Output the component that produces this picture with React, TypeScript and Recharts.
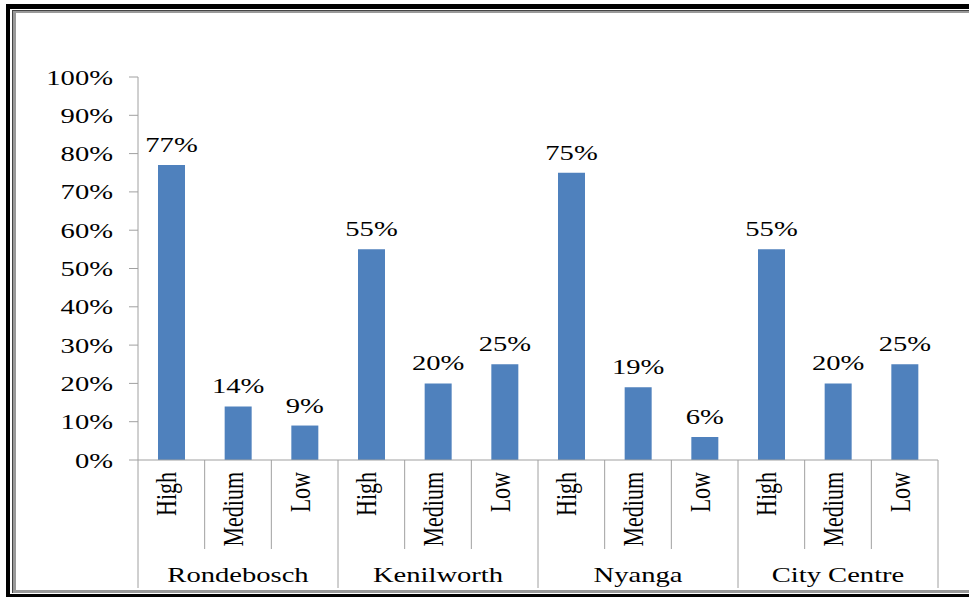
import React from 'react'
import { BarChart, Bar, XAxis, YAxis, LabelList } from 'recharts'

const groups = ['Rondebosch', 'Kenilworth', 'Nyanga', 'City Centre']
const levels = ['High', 'Medium', 'Low']
const shares = [
  [77, 14, 9],
  [55, 20, 25],
  [75, 19, 6],
  [55, 20, 25],
]
const yTicks = [0, 10, 20, 30, 40, 50, 60, 70, 80, 90, 100]

const W = 969
const H = 597
const M = { top: 77, right: 31, left: 0, bottom: 0 }
const Y_W = 138
const X_H = 137
const PLOT_W = W - M.left - M.right - Y_W

const FONT = '"Liberation Serif", "Times New Roman", serif'
const SX = 1.3
const AXIS = '#A0A0A0'

const data = groups.flatMap((g, gi) =>
  levels.map((l, li) => ({ key: `${g}-${l}`, group: g, level: l, value: shares[gi][li] }))
)

function YTick(props: any) {
  const { x, y, payload } = props
  return (
    <g transform={`translate(${x - 14},${y + 7.5}) scale(${SX},1)`}>
      <text x={0} y={0} textAnchor="end" fontFamily={FONT} fontSize={22} fill="#000">
        {`${payload.value}%`}
      </text>
    </g>
  )
}

function XTick(props: any) {
  const { x, y, index } = props
  const d = data[index]
  const half = PLOT_W / data.length / 2
  const first = index % levels.length === 0
  const last = index === data.length - 1
  return (
    <g>
      <line x1={x - half} x2={x - half} y1={y} y2={y + (first ? 128 : 89)} stroke={AXIS} />
      {last && <line x1={x + half} x2={x + half} y1={y} y2={y + 128} stroke={AXIS} />}
      <g transform={`translate(${x + 5},${y + 12}) scale(${SX},1) rotate(-90)`}>
        <text x={0} y={0} textAnchor="end" fontFamily={FONT} fontSize={22} fill="#000">
          {d.level}
        </text>
      </g>
      {index % levels.length === 1 && (
        <g transform={`translate(${x},${y + 122}) scale(${SX},1)`}>
          <text x={0} y={0} textAnchor="middle" fontFamily={FONT} fontSize={22} fill="#000">
            {d.group}
          </text>
        </g>
      )}
    </g>
  )
}

function ValueLabel(props: any) {
  const { x, y, width, value } = props
  return (
    <g transform={`translate(${x + width / 2},${y - 13}) scale(${SX},1)`}>
      <text x={0} y={0} textAnchor="middle" fontFamily={FONT} fontSize={22} fill="#000">
        {`${value}%`}
      </text>
    </g>
  )
}

export default function App() {
  return (
    <div style={{ position: 'fixed', left: 0, top: 0, width: W, height: H, background: '#fff', overflow: 'hidden' }}>
      {/* frame */}
      <div style={{ position: 'absolute', left: 6, top: 4, right: -20, bottom: 0, borderTop: '5px solid #000', borderLeft: '4px solid #000', borderBottom: '3px solid #000' }} />
      <div style={{ position: 'absolute', left: 12, top: 10, right: -20, bottom: 4, borderTop: '1px solid #444', borderLeft: '1px solid #444' }} />
      <div style={{ position: 'absolute', left: 13, top: 11, right: -20, bottom: 4, borderTop: '2px solid #999', borderLeft: '3px solid #999', borderBottom: '3px solid #999' }} />
      <div style={{ position: 'absolute', left: 0, top: 0 }}>
        <BarChart width={W} height={H} data={data} margin={M} barCategoryGap="30%">
          <XAxis
            dataKey="key"
            interval={0}
            height={X_H}
            tickLine={false}
            tickSize={0}
            tickMargin={0}
            axisLine={{ stroke: AXIS }}
            tick={<XTick />}
          />
          <YAxis
            width={Y_W}
            domain={[0, 100]}
            ticks={yTicks}
            interval={0}
            tickSize={9}
            tickMargin={2}
            axisLine={{ stroke: AXIS }}
            tickLine={{ stroke: AXIS }}
            tick={<YTick />}
          />
          <Bar dataKey="value" fill="#4F81BD" isAnimationActive={false}>
            <LabelList dataKey="value" content={<ValueLabel />} />
          </Bar>
        </BarChart>
      </div>
    </div>
  )
}
